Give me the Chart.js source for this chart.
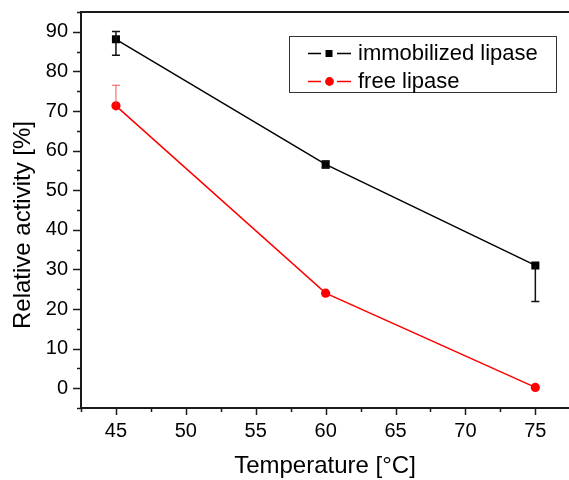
<!DOCTYPE html>
<html>
<head>
<meta charset="utf-8">
<script src="https://cdn.jsdelivr.net/npm/chart.js@4"></script>
<style>
  html, body { margin: 0; padding: 0; background: #fff; overflow: hidden; }
  #wrap { width: 569px; height: 480px; }
</style>
</head>
<body>
<div id="wrap"><canvas id="myChart" width="569" height="480"></canvas></div>
<script>
const temps = [45, 60, 75];
const immobilized = [88.1, 56.5, 31.0];
const immobilizedErrUp = [2.0, 0.9, 0];
const immobilizedErrDown = [4.0, 0.9, 9.1];
const free = [71.3, 24.0, 0.2];
const freeErrUp = [5.2, 0, 0];
const freeErrDown = [0, 0, 0];
const seriesNames = ['immobilized lipase', 'free lipase'];
const xTickValues = [42.5, 45, 47.5, 50, 52.5, 55, 57.5, 60, 62.5, 65, 67.5, 70, 72.5, 75];
const xTitle = 'Temperature [°C]';
const yTitle = 'Relative activity [%]';

const FONT = '"Liberation Sans", Arial, sans-serif';
const axisColor = '#1a1a1a';

const toPoints = (ys) => temps.map((t, i) => ({ x: t, y: ys[i] }));

// error bars, drawn from the arrays above through the scales
const errorBars = {
  id: 'errorBars',
  afterDatasetsDraw(chart) {
    const { ctx, scales: { x, y } } = chart;
    chart.data.datasets.forEach((ds) => {
      ctx.save();
      ctx.strokeStyle = ds.errColor;
      ctx.lineWidth = ds.errWidth;
      temps.forEach((t, i) => {
        const px = x.getPixelForValue(t);
        const v = ds.data[i].y;
        [ds.errUp[i], -ds.errDown[i]].forEach((e) => {
          if (e === 0) return;
          const py = y.getPixelForValue(v + e);
          ctx.beginPath();
          ctx.moveTo(px, y.getPixelForValue(v));
          ctx.lineTo(px, py);
          ctx.moveTo(px - 4, py);
          ctx.lineTo(px + 4, py);
          ctx.stroke();
        });
      });
      ctx.restore();
    });
  }
};

// frame (open on the right, like the cropped original), tick marks, titles, legend
const decorations = {
  id: 'decorations',
  afterDraw(chart) {
    const { ctx, chartArea: a, scales: { x, y } } = chart;
    ctx.save();
    ctx.strokeStyle = axisColor;
    ctx.lineWidth = 2;
    ctx.beginPath();
    ctx.moveTo(a.left - 1, a.top);
    ctx.lineTo(chart.width, a.top);
    ctx.moveTo(a.right - 1, a.bottom);
    ctx.lineTo(chart.width, a.bottom);
    ctx.stroke();

    ctx.lineWidth = 1.5;
    y.ticks.forEach((tk) => {
      const py = Math.round(y.getPixelForValue(tk.value)) + 0.5;
      const len = tk.value % 10 === 0 ? 8 : 4;
      ctx.beginPath();
      ctx.moveTo(a.left, py);
      ctx.lineTo(a.left - len, py);
      ctx.stroke();
    });
    x.ticks.forEach((tk) => {
      const px = Math.round(x.getPixelForValue(tk.value)) + 0.5;
      const len = tk.value % 5 === 0 ? 7 : 4;
      ctx.beginPath();
      ctx.moveTo(px, a.bottom);
      ctx.lineTo(px, a.bottom + len);
      ctx.stroke();
    });

    ctx.fillStyle = '#000';
    ctx.font = '24px ' + FONT;
    ctx.textAlign = 'center';
    ctx.textBaseline = 'middle';
    ctx.fillText(xTitle, 325, 466);
    ctx.save();
    ctx.translate(23, 225);
    ctx.rotate(-Math.PI / 2);
    ctx.fillText(yTitle, 0, 0);
    ctx.restore();

    // legend
    ctx.lineWidth = 1;
    ctx.strokeStyle = '#333';
    ctx.strokeRect(289.5, 36.5, 267, 56);
    const rows = [53.5, 81.5];
    chart.data.datasets.forEach((ds, i) => {
      const ry = rows[i];
      ctx.strokeStyle = ds.borderColor;
      ctx.lineWidth = 1.5;
      ctx.beginPath();
      ctx.moveTo(308, ry);
      ctx.lineTo(321, ry);
      ctx.moveTo(337, ry);
      ctx.lineTo(351, ry);
      ctx.stroke();
      ctx.fillStyle = ds.backgroundColor;
      if (ds.pointStyle === 'rect') {
        ctx.fillRect(325.5, ry - 3.5, 7, 7);
      } else {
        ctx.beginPath();
        ctx.arc(329.5, ry, 4.4, 0, Math.PI * 2);
        ctx.fill();
      }
      ctx.fillStyle = '#000';
      ctx.font = '22px ' + FONT;
      ctx.textAlign = 'left';
      ctx.fillText(ds.label, 358, ry);
    });
    ctx.restore();
  }
};

const data = {
  datasets: [
    {
      label: seriesNames[0],
      data: toPoints(immobilized),
      errUp: immobilizedErrUp,
      errDown: immobilizedErrDown,
      errColor: '#111',
      errWidth: 1.5,
      borderColor: '#000',
      backgroundColor: '#000',
      borderWidth: 1.5,
      pointStyle: 'rect',
      pointRadius: 5.7,
      pointBorderWidth: 0,
    },
    {
      label: seriesNames[1],
      data: toPoints(free),
      errUp: freeErrUp,
      errDown: freeErrDown,
      errColor: 'rgba(235, 60, 60, 0.85)',
      errWidth: 1,
      borderColor: '#ff0000',
      backgroundColor: '#ff0000',
      borderWidth: 1.5,
      pointStyle: 'circle',
      pointRadius: 4.6,
      pointBorderWidth: 0,
    },
  ]
};

const config = {
  type: 'line',
  data: data,
  options: {
    responsive: false,
    animation: false,
    layout: { padding: { top: 12, right: 0, left: 0, bottom: 0 } },
    plugins: {
      legend: { display: false },
      tooltip: { enabled: false },
    },
    scales: {
      x: {
        type: 'linear',
        min: 42.5,
        max: 77,
        afterBuildTicks: (s) => { s.ticks = xTickValues.map((v) => ({ value: v })); },
        afterFit: (s) => { s.height = 72; s.paddingLeft = 0; s.paddingRight = 0; },
        border: { display: true, color: axisColor, width: 2 },
        grid: { display: false, drawTicks: false },
        ticks: {
          padding: 11,
          color: '#000',
          font: { family: FONT, size: 20 },
          callback: (v) => (v % 5 === 0 ? v : ''),
          maxRotation: 0,
          autoSkip: false,
        },
      },
      y: {
        min: -5,
        max: 95,
        afterFit: (s) => { s.width = 81; s.paddingTop = 0; s.paddingBottom = 0; },
        border: { display: true, color: axisColor, width: 2 },
        grid: { display: false, drawTicks: false },
        ticks: {
          stepSize: 5,
          padding: 13,
          color: '#000',
          font: { family: FONT, size: 20 },
          callback: (v) => (v % 10 === 0 && v >= 0 && v <= 90 ? v : ''),
          autoSkip: false,
        },
      },
    },
  },
  plugins: [errorBars, decorations],
};

const myChart = new Chart(document.getElementById('myChart'), config);
</script>
</body>
</html>
